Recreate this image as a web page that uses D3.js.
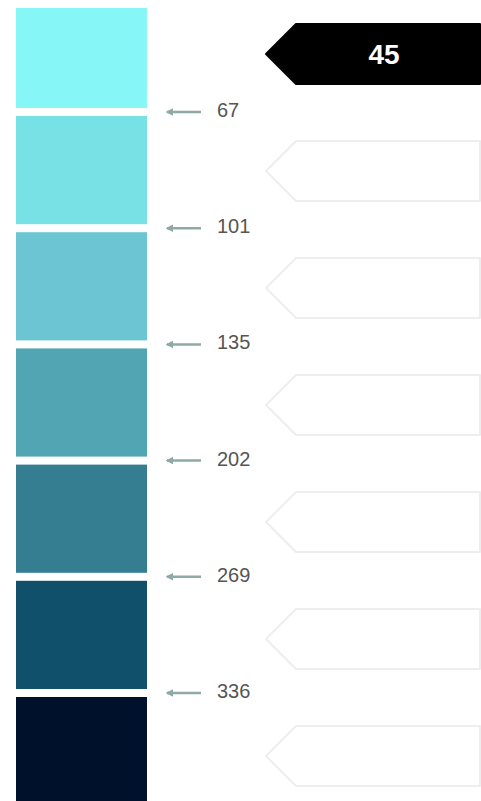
<!DOCTYPE html>
<html>
<head>
<meta charset="utf-8">
<script src="https://d3js.org/d3.v7.min.js"></script>
<style>
  body { margin: 0; background: #fff; }
  svg { display: block; font-family: "Liberation Sans", Arial, sans-serif; }
</style>
</head>
<body>
<div id="chart"></div>
<script>
// class breaks (lower bound of each class) and their colours
var breaks = [45, 67, 101, 135, 202, 269, 336];
var colors = ["#86f6f6", "#77e1e5", "#6cc5d2", "#52a6b3", "#357e92", "#10506a", "#00112b"];
var activeIndex = 0; // the highlighted tag

var width = 481, height = 801;

var svg = d3.select("#chart")
  .append("svg")
  .attr("width", width)
  .attr("height", height);

// gap between swatch i-1 and i sits on this scale (i = 1..6)
var gapY = d3.scaleLinear()
  .domain([1, breaks.length - 1])
  .range([112, 693]);

// tags on the right: 60px tall, 117px apart
var tagY = d3.scaleBand()
  .domain(d3.range(breaks.length))
  .range([24, 24 + 117 * (breaks.length - 1) + 60])
  .paddingInner(57 / 117)
  .paddingOuter(0);

// swatches
svg.selectAll("rect.swatch")
  .data(breaks)
  .enter()
  .append("rect")
  .attr("class", "swatch")
  .attr("x", 16)
  .attr("width", 131)
  .attr("y", function(d, i) { return i === 0 ? 8 : gapY(i) + 4; })
  .attr("height", function(d, i) {
    var top = i === 0 ? 8 : gapY(i) + 4;
    var bottom = i === breaks.length - 1 ? height + 10 : gapY(i + 1) - 4;
    return bottom - top;
  })
  .attr("fill", function(d, i) { return colors[i]; });

// arrow marker (drawn pointing along the line, the line runs leftwards)
svg.append("defs")
  .append("marker")
  .attr("id", "arrowhead")
  .attr("viewBox", "0 0 10 10")
  .attr("refX", 8)
  .attr("refY", 5)
  .attr("markerWidth", 3)
  .attr("markerHeight", 3)
  .attr("orient", "auto")
  .append("path")
  .attr("d", "M0,0 L10,5 L0,10 z")
  .attr("fill", "#8fa9a7");

var ticks = breaks.slice(1);

svg.selectAll("line.tick")
  .data(ticks)
  .enter()
  .append("line")
  .attr("class", "tick")
  .attr("x1", 201)
  .attr("x2", 167)
  .attr("y1", function(d, i) { return gapY(i + 1); })
  .attr("y2", function(d, i) { return gapY(i + 1); })
  .attr("stroke", "#8fa9a7")
  .attr("stroke-width", 2.5)
  .attr("marker-end", "url(#arrowhead)");

svg.selectAll("text.tick-label")
  .data(ticks)
  .enter()
  .append("text")
  .attr("class", "tick-label")
  .attr("x", 217)
  .attr("y", function(d, i) { return gapY(i + 1) - 2; })
  .attr("dy", "0.35em")
  .attr("fill", "#555")
  .style("font-size", "20px")
  .text(function(d) { return d; });

// pentagon tags
function tagPath(y, h) {
  var x0 = 266, x1 = 296, x2 = 480;
  return "M" + x0 + "," + (y + h / 2) +
    " L" + x1 + "," + y +
    " L" + x2 + "," + y +
    " L" + x2 + "," + (y + h) +
    " L" + x1 + "," + (y + h) + " Z";
}

var tags = svg.selectAll("g.tag")
  .data(breaks)
  .enter()
  .append("g")
  .attr("class", "tag");

tags.append("path")
  .attr("d", function(d, i) { return tagPath(tagY(i), tagY.bandwidth()); })
  .attr("fill", function(d, i) { return i === activeIndex ? "#000" : "#fff"; })
  .attr("stroke", function(d, i) { return i === activeIndex ? "#000" : "#eeeeee"; })
  .attr("stroke-width", 2)
  .attr("stroke-linejoin", "round");

tags.filter(function(d, i) { return i === activeIndex; })
  .append("text")
  .attr("x", 384)
  .attr("y", tagY(activeIndex) + tagY.bandwidth() / 2)
  .attr("dy", "0.35em")
  .attr("text-anchor", "middle")
  .attr("fill", "#fff")
  .style("font-size", "28px")
  .style("font-weight", "bold")
  .text(function(d) { return d; });
</script>
</body>
</html>
